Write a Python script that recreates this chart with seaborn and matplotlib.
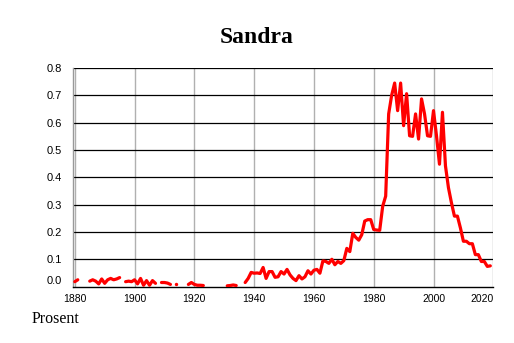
import numpy as np
import pandas as pd
import matplotlib
matplotlib.use("Agg")
import matplotlib.pyplot as plt
import matplotlib.transforms as mtransforms
import seaborn as sns

nan = np.nan
years = list(range(1880, 2020))
percent = [
    # 1880-1889
    0.018, 0.025, nan, nan, nan, 0.020, 0.025, 0.020, 0.010, 0.028,
    # 1890-1899
    0.012, 0.025, 0.030, 0.025, 0.028, 0.033, nan, 0.018, 0.020, 0.018,
    # 1900-1909
    0.025, 0.010, 0.030, 0.005, 0.022, 0.005, 0.022, 0.012, nan, 0.015,
    # 1910-1919
    0.015, 0.013, 0.008, nan, 0.010, nan, nan, nan, 0.008, 0.015,
    # 1920-1929
    0.008, 0.005, 0.005, 0.004, nan, nan, nan, nan, nan, nan,
    # 1930-1939
    nan, 0.003, 0.004, 0.006, 0.004, nan, nan, 0.015, 0.030, 0.052,
    # 1940-1949
    0.049, 0.050, 0.048, 0.070, 0.030, 0.055, 0.055, 0.034, 0.036, 0.055,
    # 1950-1959
    0.046, 0.063, 0.043, 0.030, 0.022, 0.040, 0.028, 0.036, 0.058, 0.046,
    # 1960-1969
    0.060, 0.063, 0.049, 0.094, 0.092, 0.085, 0.100, 0.080, 0.092, 0.085,
    # 1970-1979
    0.095, 0.140, 0.128, 0.195, 0.180, 0.170, 0.190, 0.240, 0.245, 0.245,
    # 1980-1989
    0.209, 0.207, 0.206, 0.294, 0.331, 0.632, 0.700, 0.745, 0.644, 0.745,
    # 1990-1999
    0.589, 0.706, 0.552, 0.550, 0.632, 0.540, 0.687, 0.632, 0.552, 0.550,
    # 2000-2009
    0.644, 0.552, 0.448, 0.638, 0.442, 0.362, 0.307, 0.258, 0.258, 0.215,
    # 2010-2019
    0.166, 0.166, 0.157, 0.157, 0.117, 0.117, 0.092, 0.092, 0.074, 0.076,
]
title = "Sandra"
ylabel_text = "Prosent"
xticks = [1880, 1900, 1920, 1940, 1960, 1980, 2000, 2020]
yticks = [0.0, 0.1, 0.2, 0.3, 0.4, 0.5, 0.6, 0.7, 0.8]

df = pd.DataFrame({"year": years, "pct": percent})
df["seg"] = df["pct"].isna().cumsum()
valid = df.dropna()
seg_size = valid.groupby("seg")["pct"].transform("size")
lines = valid[seg_size > 1]
singles = valid[seg_size == 1]

sns.set_style("white")
plt.rcParams["font.family"] = ["Liberation Sans", "DejaVu Sans"]
plt.rcParams["text.color"] = "black"
plt.rcParams["xtick.labelcolor"] = "black"
plt.rcParams["ytick.labelcolor"] = "black"

fig = plt.figure(figsize=(5.14, 3.43), dpi=100)
ax = fig.add_axes([0.1426, 0.1644, 0.9597 - 0.1426, 0.8017 - 0.1644])

# grid
for x in xticks:
    ax.axvline(x, color="#b0b0b0", lw=1.0, zorder=1)
for y in yticks[1:]:
    ax.axhline(y, color="black", lw=0.9, zorder=1.5)

sns.lineplot(data=lines, x="year", y="pct", units="seg", estimator=None,
             color="#ff0000", lw=2.3, ax=ax, zorder=3, legend=False)
if len(singles):
    sns.scatterplot(data=singles, x="year", y="pct", color="#ff0000", s=6,
                    linewidth=0, ax=ax, zorder=3, legend=False)

ax.set_xlim(1879.5, 2020)
ax.set_ylim(0, 0.8)
ax.set_xticks(xticks)
ax.set_xticks(list(range(1880, 2021, 5)), minor=True)
ax.set_yticks(yticks)
ax.set_yticklabels([f"{v:.1f}" for v in yticks])
ax.set_xlabel("")
ax.set_ylabel("")

ax.tick_params(axis="x", which="both", direction="out", length=3, width=0.7,
               color="#555555", labelsize=7.5, pad=2, labelcolor="black")
ax.tick_params(axis="y", which="both", length=0, labelsize=8, pad=8,
               labelcolor="black")

for s in ["top", "right"]:
    ax.spines[s].set_visible(False)
ax.spines["left"].set_color("#999999")
ax.spines["left"].set_linewidth(1.0)
ax.spines["bottom"].set_color("black")
ax.spines["bottom"].set_linewidth(1.0)

# nudge labels like the reference
xl = ax.get_xticklabels()
xl[-1].set_ha("right")
yl = ax.get_yticklabels()
yl[0].set_transform(yl[0].get_transform() + mtransforms.ScaledTranslation(0, 5 / 72, fig.dpi_scale_trans))

fig.text(0.5, 0.892, title, ha="center", va="center", fontsize=17,
         fontweight="bold", color="black", family=["Liberation Serif", "DejaVu Serif"])
fig.text(31.7 / 514, 1 - 323 / 343, ylabel_text, ha="left", va="baseline",
         fontsize=11.5, color="black", family=["Liberation Serif", "DejaVu Serif"])

fig.savefig("out.png", dpi=100)
